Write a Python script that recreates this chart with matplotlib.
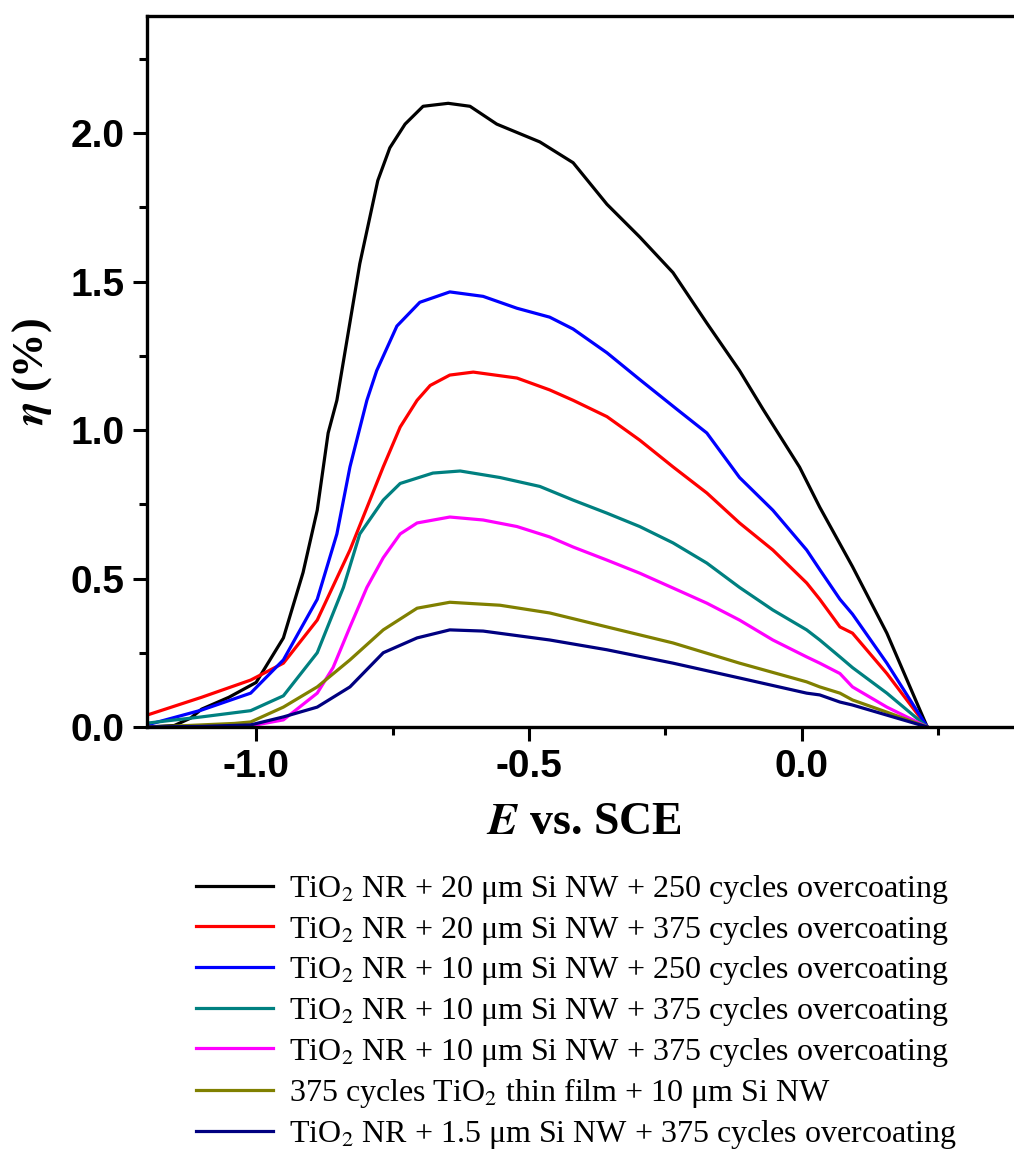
"""
Efficiency (eta) vs. potential for TiO2 NR / Si NW photoelectrodes.
"""

import matplotlib as mpl
mpl.use('Agg')

import numpy as np
import matplotlib.pyplot as plt
from matplotlib.ticker import MultipleLocator, FormatStrFormatter

# Data (E vs. SCE in V, eta in %)
e_black = [-1.2, -1.15, -1.12, -1.10, -1.05, -1.0, -0.95, -0.914, -0.888, -0.868, -0.852, -0.81, -0.777,
           -0.755, -0.727, -0.694, -0.648, -0.608, -0.559, -0.48, -0.419, -0.357, -0.297, -0.236,
           -0.174, -0.114, -0.071, -0.004, 0.033, 0.093, 0.156, 0.23]
eta_black = [0.0, 0.005, 0.03, 0.06, 0.10, 0.15, 0.30, 0.52, 0.73, 0.99, 1.10, 1.56, 1.84,
             1.95, 2.03, 2.09, 2.10, 2.09, 2.03, 1.97, 1.90, 1.76, 1.65, 1.53,
             1.36, 1.20, 1.07, 0.875, 0.74, 0.54, 0.316, 0.0]

e_red = [-1.2, -1.10, -1.01, -0.95, -0.888, -0.828, -0.767, -0.736, -0.705, -0.681, -0.645, -0.602,
         -0.522, -0.462, -0.419, -0.357, -0.297, -0.236, -0.174, -0.114, -0.053, 0.009, 0.033,
         0.07, 0.093, 0.156, 0.23]
eta_red = [0.04, 0.10, 0.158, 0.215, 0.36, 0.596, 0.876, 1.01, 1.10, 1.15, 1.185, 1.195,
           1.175, 1.135, 1.10, 1.045, 0.966, 0.876, 0.788, 0.687, 0.596, 0.485, 0.43,
           0.337, 0.316, 0.18, 0.0]

e_blue = [-1.2, -1.10, -1.01, -0.95, -0.888, -0.852, -0.828, -0.797, -0.779, -0.742, -0.70, -0.645,
          -0.584, -0.522, -0.462, -0.419, -0.357, -0.297, -0.229, -0.174, -0.114, -0.053, 0.009,
          0.033, 0.07, 0.093, 0.156, 0.23]
eta_blue = [0.007, 0.057, 0.114, 0.226, 0.43, 0.65, 0.876, 1.10, 1.20, 1.35, 1.43, 1.465,
            1.45, 1.41, 1.38, 1.34, 1.26, 1.17, 1.07, 0.99, 0.84, 0.73, 0.596,
            0.53, 0.43, 0.38, 0.215, 0.0]

e_teal = [-1.2, -1.10, -1.01, -0.95, -0.888, -0.84, -0.81, -0.767, -0.736, -0.676, -0.626, -0.553,
          -0.48, -0.419, -0.357, -0.297, -0.236, -0.174, -0.114, -0.053, 0.009, 0.033, 0.07,
          0.093, 0.156, 0.23]
eta_teal = [0.013, 0.034, 0.055, 0.105, 0.25, 0.47, 0.65, 0.764, 0.82, 0.855, 0.862, 0.84,
            0.81, 0.764, 0.72, 0.675, 0.62, 0.552, 0.47, 0.394, 0.327, 0.293, 0.236,
            0.20, 0.114, 0.0]

e_magenta = [-1.2, -1.1, -1.0, -0.95, -0.888, -0.859, -0.828, -0.797, -0.767, -0.736, -0.705, -0.645,
             -0.584, -0.522, -0.462, -0.419, -0.357, -0.297, -0.236, -0.174, -0.114, -0.053,
             0.009, 0.033, 0.07, 0.093, 0.156, 0.23]
eta_magenta = [0.0, 0.002, 0.007, 0.024, 0.114, 0.20, 0.337, 0.47, 0.57, 0.65, 0.687, 0.707,
               0.697, 0.675, 0.64, 0.606, 0.562, 0.518, 0.468, 0.417, 0.36, 0.293,
               0.236, 0.215, 0.18, 0.135, 0.067, 0.0]

e_olive = [-1.2, -1.15, -1.04, -1.01, -0.95, -0.888, -0.828, -0.767, -0.705, -0.645, -0.553, -0.462,
           -0.357, -0.236, -0.114, 0.009, 0.033, 0.07, 0.093, 0.156, 0.23]
eta_olive = [0.0, 0.003, 0.012, 0.017, 0.067, 0.135, 0.226, 0.327, 0.40, 0.42, 0.41, 0.384,
             0.337, 0.283, 0.215, 0.152, 0.135, 0.114, 0.091, 0.05, 0.0]

e_navy = [-1.2, -1.1, -1.01, -0.95, -0.888, -0.828, -0.767, -0.705, -0.645, -0.584, -0.462,
          -0.357, -0.236, -0.114, 0.009, 0.033, 0.07, 0.093, 0.156, 0.23]
eta_navy = [0.0, 0.002, 0.007, 0.034, 0.067, 0.135, 0.25, 0.30, 0.327, 0.323, 0.293,
            0.26, 0.215, 0.165, 0.114, 0.108, 0.084, 0.074, 0.04, 0.0]

labels = [
    'TiO$_2$ NR + 20 μm Si NW + 250 cycles overcoating',
    'TiO$_2$ NR + 20 μm Si NW + 375 cycles overcoating',
    'TiO$_2$ NR + 10 μm Si NW + 250 cycles overcoating',
    'TiO$_2$ NR + 10 μm Si NW + 375 cycles overcoating',
    'TiO$_2$ NR + 10 μm Si NW + 375 cycles overcoating',
    '375 cycles TiO$_2$ thin film + 10 μm Si NW',
    'TiO$_2$ NR + 1.5 μm Si NW + 375 cycles overcoating',
]
colors = ['#000000', '#ff0000', '#0000ff', '#008080', '#ff00ff', '#808000', '#000080']

series = [(e_black, eta_black), (e_red, eta_red), (e_blue, eta_blue), (e_teal, eta_teal),
          (e_magenta, eta_magenta), (e_olive, eta_olive), (e_navy, eta_navy)]

plt.rcParams['mathtext.fontset'] = 'stix'

W, H = 1014, 1152
fig = plt.figure(figsize=(W / 100, H / 100), dpi=100)
ax = fig.add_axes([147 / W, (H - 727) / H, (1020 - 147) / W, (727 - 16) / H])

handles = []
for (e, eta), c, lab in zip(series, colors, labels):
    h, = ax.plot(e, eta, color=c, lw=2.3, label=lab)
    handles.append(h)

ax.set_xlim(-1.2, 0.4)
ax.set_ylim(0, 2.394)

ax.xaxis.set_major_locator(MultipleLocator(0.5))
ax.xaxis.set_minor_locator(MultipleLocator(0.25))
ax.yaxis.set_major_locator(MultipleLocator(0.5))
ax.yaxis.set_minor_locator(MultipleLocator(0.25))
ax.xaxis.set_major_formatter(FormatStrFormatter('%.1f'))
ax.yaxis.set_major_formatter(FormatStrFormatter('%.1f'))

for s in ax.spines.values():
    s.set_linewidth(2.4)
ax.tick_params(which='major', direction='out', length=10, width=2.2, pad=6)
ax.tick_params(which='minor', direction='out', length=6, width=2.2)
for t in ax.get_xticklabels() + ax.get_yticklabels():
    t.set_fontfamily('Liberation Sans')
    t.set_fontweight('bold')
    t.set_fontsize(28)

ax.set_ylabel(r'$\boldsymbol{\eta}$ (%)', fontfamily='Liberation Serif', fontweight='bold',
              fontsize=32, labelpad=12)
ax.set_xlabel(r'$\boldsymbol{E}$ vs. SCE', fontfamily='Liberation Serif', fontweight='bold',
              fontsize=33, labelpad=12)

fig.legend(handles, labels, loc='upper left', bbox_to_anchor=(180 / W, 1 - 857 / H),
           frameon=False, prop={'family': 'Liberation Serif', 'size': 23},
           handlelength=2.4, handletextpad=0.5, labelspacing=0.24, borderpad=0)

fig.savefig('out.png', dpi=100)
